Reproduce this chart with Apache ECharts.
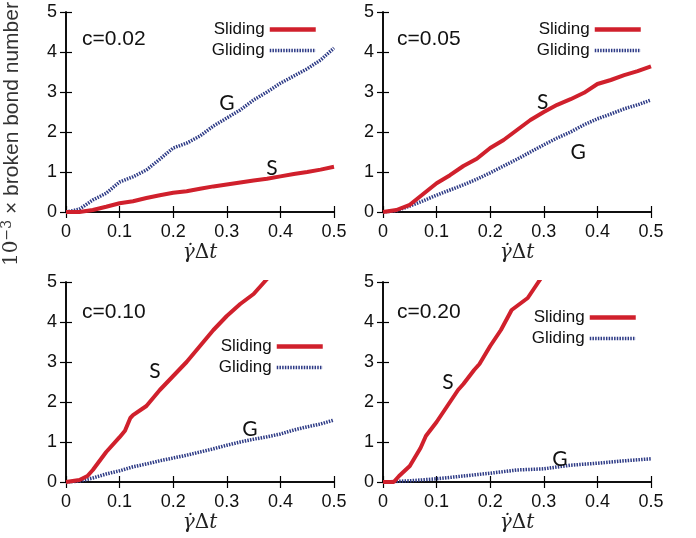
<!DOCTYPE html>
<html><head><meta charset="utf-8">
<script src="https://cdn.jsdelivr.net/npm/echarts@6/dist/echarts.min.js"></script>
<style>html,body{margin:0;padding:0;background:#fff}#c{width:696px;height:538px}</style>
</head><body><div id="c"></div>
<script>
// ---- data ----
const panelTitles = ['c=0.02', 'c=0.05', 'c=0.10', 'c=0.20'];
const xTicks = [0, 0.1, 0.2, 0.3, 0.4, 0.5];
const yTicks = [0, 1, 2, 3, 4, 5];

const xReg = [0,0.025,0.05,0.075,0.1,0.125,0.15,0.175,0.2,0.225,0.25,0.275,0.3,0.325,0.35,0.375,0.4,0.425,0.45,0.475,0.5];

// c = 0.02
const xS02 = xReg;
const yS02 = [0,0,0.05,0.13,0.22,0.27,0.35,0.42,0.48,0.52,0.58,0.64,0.69,0.74,0.79,0.83,0.89,0.95,1.0,1.06,1.13];
const xG02 = xReg;
const yG02 = [0,0.07,0.3,0.47,0.75,0.88,1.05,1.32,1.6,1.72,1.9,2.15,2.35,2.55,2.8,3.0,3.22,3.4,3.58,3.8,4.1];

// c = 0.05
const xS05 = xReg;
const yS05 = [0,0.05,0.18,0.45,0.72,0.92,1.15,1.33,1.6,1.8,2.05,2.3,2.5,2.68,2.82,2.98,3.2,3.3,3.42,3.52,3.64];
const xG05 = xReg;
const yG05 = [0,0.03,0.15,0.28,0.42,0.55,0.68,0.82,0.98,1.15,1.32,1.5,1.68,1.85,2.0,2.18,2.33,2.45,2.58,2.68,2.8];

// c = 0.10
const xS10 = [0,0.025,0.04,0.05,0.075,0.1,0.11,0.12,0.125,0.15,0.175,0.2,0.225,0.25,0.275,0.3,0.325,0.35,0.37,0.38];
const yS10 = [0,0.05,0.15,0.3,0.75,1.12,1.28,1.6,1.67,1.9,2.3,2.65,3.0,3.4,3.8,4.15,4.45,4.7,5.0,5.15];
const xG10 = xReg;
const yG10 = [0,0.02,0.1,0.2,0.28,0.38,0.45,0.53,0.6,0.67,0.75,0.83,0.92,1.0,1.07,1.13,1.2,1.3,1.38,1.45,1.55];

// c = 0.20
const xS20 = [0,0.02,0.03,0.05,0.07,0.08,0.1,0.12,0.14,0.15,0.17,0.18,0.2,0.22,0.24,0.25,0.27,0.29,0.3];
const yS20 = [0,0,0.15,0.4,0.85,1.15,1.5,1.9,2.3,2.45,2.8,2.95,3.4,3.8,4.3,4.4,4.6,5.0,5.2];
const xG20 = [0,0.05,0.1,0.15,0.2,0.25,0.3,0.35,0.4,0.45,0.5];
const yG20 = [0,0.03,0.08,0.15,0.22,0.3,0.33,0.42,0.47,0.53,0.58];

// annotation anchor points (data coordinates) for the "S" and "G" tags
const tagS = [[0.384,1.1],[0.298,2.75],[0.166,2.78],[0.121,2.5]];
const tagG = [[0.30,2.72],[0.364,1.5],[0.343,1.33],[0.33,0.58]];

const slidingX = [xS02, xS05, xS10, xS20];
const slidingY = [yS02, yS05, yS10, yS20];
const glidingX = [xG02, xG05, xG10, xG20];
const glidingY = [yG02, yG05, yG10, yG20];

// ---- layout ----
const grids = [
  {left:66, top:12, width:268, height:200},
  {left:383, top:12, width:268, height:200},
  {left:66, top:282, width:268, height:200},
  {left:383, top:282, width:268, height:200}
];
const legendPos = [
  {right:378, top:21},
  {right:53, top:21},
  {right:371, top:338},
  {right:58, top:309}
];
const titlePos = [
  {left:82, top:29},
  {left:397, top:29},
  {left:82, top:302},
  {left:397, top:302}
];

const RED = '#d0202c';
const BLUE = '#2e3b86';
const FONT = '"Liberation Sans", Arial, sans-serif';

const zip = (xs, ys) => xs.map((x, i) => [x, ys[i]]);

const option = {
  animation: false,
  backgroundColor: '#fff',
  grid: grids,
  title: [],
  legend: [],
  xAxis: [],
  yAxis: [],
  series: [],
  graphic: [{
    type: 'text',
    x: 12, y: 134,
    rotation: Math.PI / 2,
    style: {
      text: '{n|10}{s|−3} × broken bond number',
      align: 'center', verticalAlign: 'middle',
      fill: '#333',
      font: '21px "Liberation Sans", Arial, sans-serif',
      rich: {
        n: {fontFamily: '"DejaVu Serif", serif', fontSize: 20, fill: '#333'},
        s: {fontFamily: '"DejaVu Serif", serif', fontSize: 14, fill: '#333', verticalAlign: 'bottom', padding:[0,0,10,0]}
      }
    }
  }]
};

const tagStyle = {fontFamily: 'Lato, "Open Sans", sans-serif', fontSize: 21, color: '#111'};

for (let i = 0; i < 4; i++) {
  option.title.push({
    text: panelTitles[i], left: titlePos[i].left, top: titlePos[i].top, padding: 0,
    textStyle: {fontSize: 21, fontWeight: 'normal', fontFamily: FONT, color: '#111'}
  });
  option.legend.push({
    orient: 'vertical', right: legendPos[i].right, top: legendPos[i].top,
    align: 'right', itemWidth: 46, itemHeight: 14, itemGap: 4, padding: 0,
    selectedMode: false,
    itemStyle: {opacity: 0},
    data: [
      {name: 'Sliding', lineStyle: {width: 4.5, color: RED}},
      {name: 'Gliding', lineStyle: {width: 3.5, color: BLUE, type: [1.5, 1.2]}}
    ],
    textStyle: {fontSize: 17, fontFamily: FONT, color: '#111'}
  });
  const axLine = {show: true, lineStyle: {color: '#000', width: 1.5}};
  option.xAxis.push({
    type: 'value', gridIndex: i, min: xTicks[0], max: xTicks[xTicks.length-1], interval: 0.1,
    position: 'bottom',
    name: '{i|γ̇}{u|Δ}{i|t}', nameLocation: 'middle', nameGap: 31,
    nameTextStyle: {rich: {
      i: {fontFamily: '"DejaVu Serif", serif', fontStyle: 'italic', fontSize: 20, color: '#222'},
      u: {fontFamily: '"DejaVu Serif", serif', fontSize: 20, color: '#222'}
    }},
    axisLine: axLine, axisTick: {inside: true, length: 6, lineStyle: {color: '#000', width: 1.2}},
    axisLabel: {fontSize: 18, fontFamily: FONT, color: '#111', margin: 11, formatter: v => String(+v.toFixed(1))},
    splitLine: {show: false}
  });
  option.xAxis.push({
    type: 'value', gridIndex: i, min: xTicks[0], max: xTicks[xTicks.length-1], interval: 0.1,
    position: 'top',
    axisLine: axLine, axisTick: {inside: true, length: 6, lineStyle: {color: '#000', width: 1.2}},
    axisLabel: {show: false}, splitLine: {show: false}
  });
  option.yAxis.push({
    type: 'value', gridIndex: i, min: yTicks[0], max: yTicks[yTicks.length-1], interval: 1,
    position: 'left',
    axisLine: axLine, axisTick: {inside: true, length: 6, lineStyle: {color: '#000', width: 1.2}},
    axisLabel: {fontSize: 18, fontFamily: FONT, color: '#111', margin: 9},
    splitLine: {show: false}
  });
  option.yAxis.push({
    type: 'value', gridIndex: i, min: yTicks[0], max: yTicks[yTicks.length-1], interval: 1,
    position: 'right',
    axisLine: axLine, axisTick: {inside: true, length: 6, lineStyle: {color: '#000', width: 1.2}},
    axisLabel: {show: false}, splitLine: {show: false}
  });
  option.series.push({
    name: 'Sliding', type: 'line', xAxisIndex: 2*i, yAxisIndex: 2*i,
    data: zip(slidingX[i], slidingY[i]), showSymbol: false, symbol: 'none', smooth: false,
    clip: true, z: 3,
    lineStyle: {color: RED, width: 4}, itemStyle: {color: RED},
    markPoint: {symbol: 'circle', symbolSize: 0, silent: true,
      label: {show: true, formatter: 'S', position: 'inside', ...tagStyle},
      data: [{coord: tagS[i]}]}
  });
  option.series.push({
    name: 'Gliding', type: 'line', xAxisIndex: 2*i, yAxisIndex: 2*i,
    data: zip(glidingX[i], glidingY[i]), showSymbol: false, symbol: 'none', smooth: false,
    clip: true, z: 2,
    lineStyle: {color: BLUE, width: 3.5, type: [1.5, 1.2]}, itemStyle: {color: BLUE},
    markPoint: {symbol: 'circle', symbolSize: 0, silent: true,
      label: {show: true, formatter: 'G', position: 'inside', ...tagStyle},
      data: [{coord: tagG[i]}]}
  });
}

const chart = echarts.init(document.getElementById('c'), null, {renderer: 'canvas'});
chart.setOption(option);
</script>
</body></html>
